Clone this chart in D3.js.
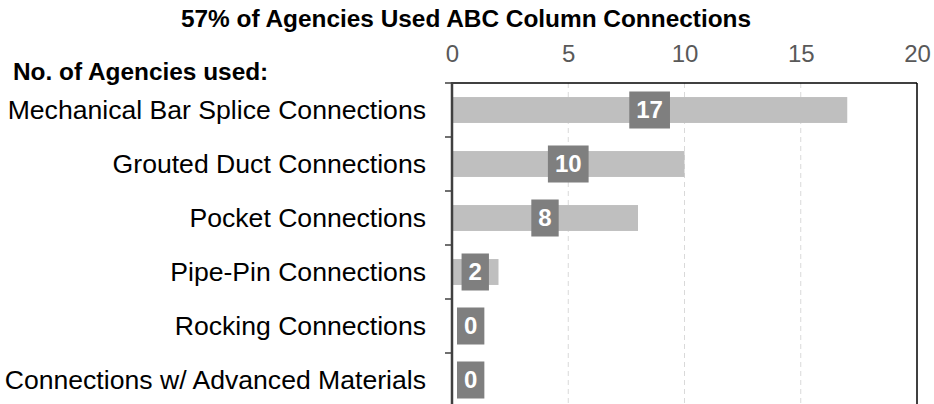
<!DOCTYPE html>
<html>
<head>
<meta charset="utf-8">
<script src="https://cdn.jsdelivr.net/npm/d3@7"></script>
<style>
  html, body { margin: 0; padding: 0; background: #fff; }
  svg { display: block; font-family: "Liberation Sans", Arial, sans-serif; }
</style>
</head>
<body>
<svg id="chart" width="934" height="404"></svg>
<script>
// Connection types and number of agencies using each
const categories = [
  "Mechanical Bar Splice Connections",
  "Grouted Duct Connections",
  "Pocket Connections",
  "Pipe-Pin Connections",
  "Rocking Connections",
  "Connections w/ Advanced Materials"
];
const agencies = [17, 10, 8, 2, 0, 0];
const xTicks = [0, 5, 10, 15, 20];

const title = "57% of Agencies Used ABC Column Connections";
const subTitle = "No. of Agencies used:";

const svg = d3.select("#chart");

const plotLeft = 452, plotRight = 917, plotTop = 83, step = 54;

const x = d3.scaleLinear().domain([0, 20]).range([plotLeft, plotRight]);
const y = d3.scaleBand()
  .domain(categories)
  .range([plotTop, plotTop + step * categories.length])
  .paddingInner(0.52)
  .paddingOuter(0.26);

// Title and subtitle
svg.append("text")
  .attr("x", 466).attr("y", 27)
  .attr("text-anchor", "middle")
  .attr("font-size", 24.4).attr("font-weight", "bold")
  .attr("fill", "#000")
  .text(title);

svg.append("text")
  .attr("x", 13).attr("y", 80)
  .attr("font-size", 24.4).attr("font-weight", "bold")
  .attr("fill", "#000")
  .text(subTitle);

// Dashed vertical gridlines
svg.append("g")
  .selectAll("line")
  .data(xTicks.filter(d => d > 0 && d < 20))
  .join("line")
  .attr("x1", d => x(d)).attr("x2", d => x(d))
  .attr("y1", plotTop).attr("y2", 404)
  .attr("stroke", "#d9d9d9")
  .attr("stroke-width", 1)
  .attr("stroke-dasharray", "5,4");

// Top value axis
const xAxis = svg.append("g")
  .attr("transform", `translate(0,${plotTop})`)
  .call(d3.axisTop(x).tickValues(xTicks).tickSize(0).tickPadding(21));
xAxis.select(".domain").remove();
xAxis.selectAll("text")
  .attr("font-size", 24)
  .attr("font-family", "'Liberation Sans', Arial, sans-serif")
  .attr("fill", "#595959");

// Plot frame: top and right edges
svg.append("line")
  .attr("x1", plotLeft).attr("x2", plotRight)
  .attr("y1", plotTop).attr("y2", plotTop)
  .attr("stroke", "#000").attr("stroke-width", 1.5);
svg.append("line")
  .attr("x1", plotRight).attr("x2", plotRight)
  .attr("y1", plotTop).attr("y2", 404)
  .attr("stroke", "#000").attr("stroke-width", 1.5);

// Bars
svg.append("g")
  .selectAll("rect")
  .data(categories)
  .join("rect")
  .attr("x", x(0))
  .attr("y", d => y(d))
  .attr("width", (d, i) => x(agencies[i]) - x(0))
  .attr("height", y.bandwidth())
  .attr("fill", "#bfbfbf");

// Category axis on the left
const bandEdges = d3.range(categories.length + 1).map(i => plotTop + i * step);
svg.append("g")
  .selectAll("line")
  .data(bandEdges)
  .join("line")
  .attr("x1", plotLeft - 7).attr("x2", plotLeft)
  .attr("y1", d => d).attr("y2", d => d)
  .attr("stroke", "#404040").attr("stroke-width", 1.5);
svg.append("line")
  .attr("x1", plotLeft).attr("x2", plotLeft)
  .attr("y1", plotTop - 1).attr("y2", 404)
  .attr("stroke", "#404040").attr("stroke-width", 2.5);

svg.append("g")
  .selectAll("text")
  .data(categories)
  .join("text")
  .attr("x", 426)
  .attr("y", d => y(d) + y.bandwidth() / 2)
  .attr("dy", "0.35em")
  .attr("text-anchor", "end")
  .attr("font-size", 26.6)
  .attr("fill", "#000")
  .text(d => d);

// Value labels in dark boxes, centred on each bar
const labels = svg.append("g")
  .selectAll("g")
  .data(categories)
  .join("g");

labels.each(function (d, i) {
  const g = d3.select(this);
  const cy = y(d) + y.bandwidth() / 2;
  const t = g.append("text")
    .attr("text-anchor", "middle")
    .attr("dy", "0.35em")
    .attr("font-size", 24)
    .attr("font-weight", "bold")
    .attr("fill", "#fff")
    .text(agencies[i]);
  const w = t.node().getComputedTextLength() + 14;
  const h = 37;
  const cx = Math.max(x(agencies[i] / 2), x(0) + 5 + w / 2);
  g.insert("rect", "text")
    .attr("x", cx - w / 2).attr("y", cy - h / 2)
    .attr("width", w).attr("height", h)
    .attr("fill", "#7f7f7f");
  t.attr("x", cx).attr("y", cy);
});
</script>
</body>
</html>
